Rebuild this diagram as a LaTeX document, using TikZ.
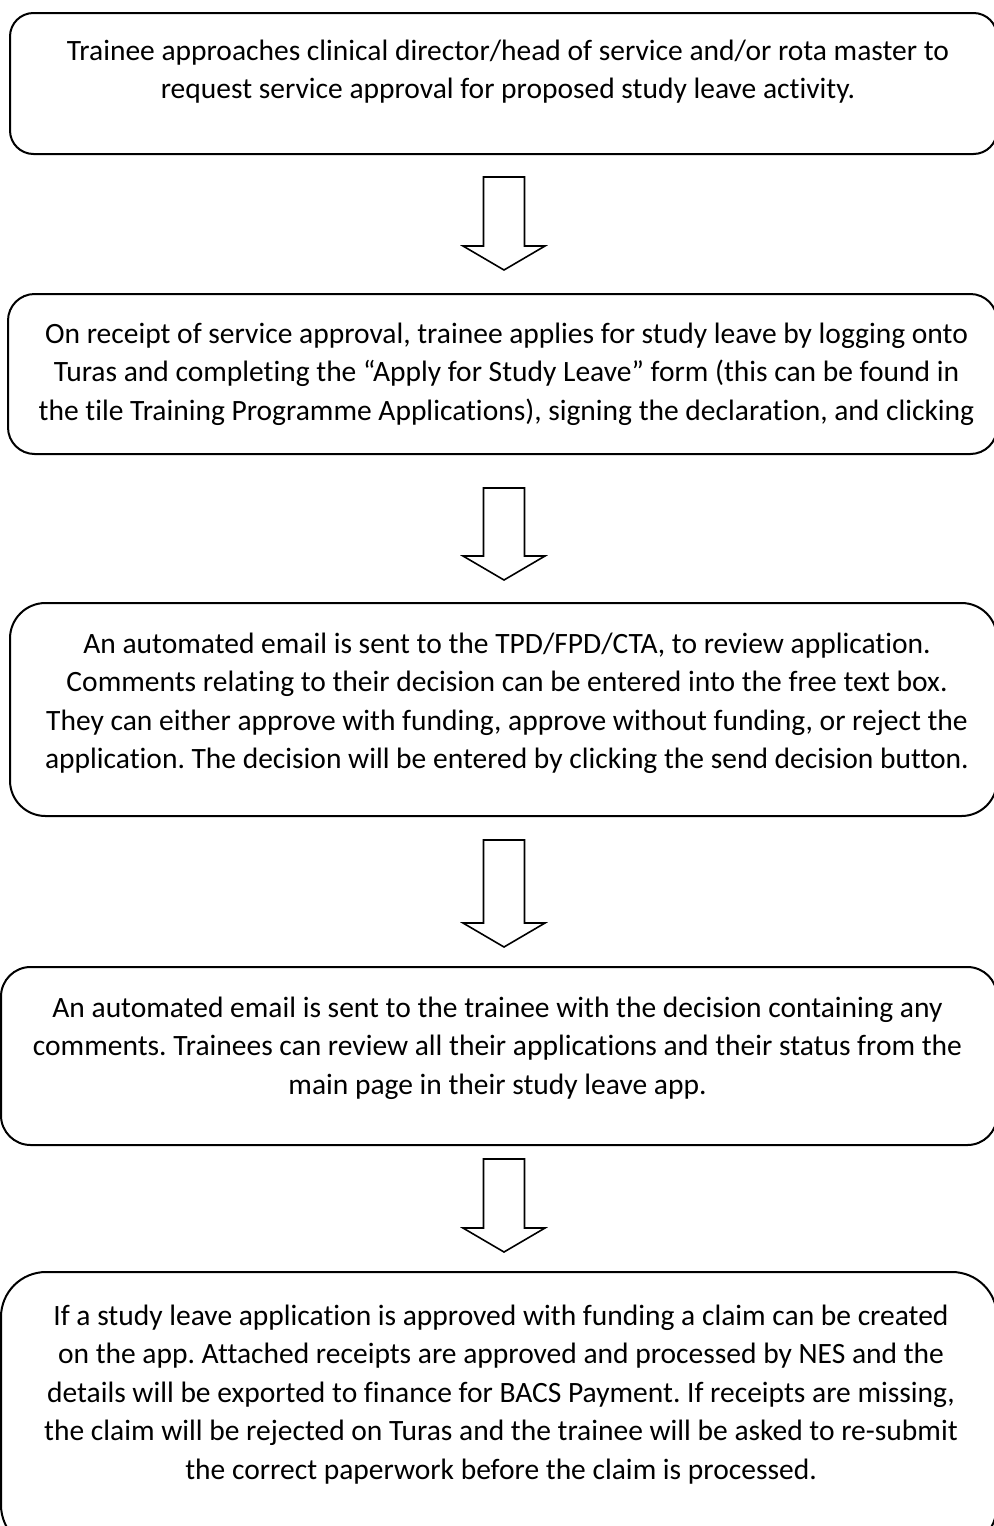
\documentclass[tikz,border=0pt]{standalone}
\usepackage{fontspec}
\setmainfont{Carlito}[Ligatures=NoCommon]
\usetikzlibrary{positioning,calc}
\tikzset{
  stepbox/.style={draw, line width=1pt, inner sep=0pt},
  steptext/.style={align=center, inner sep=0pt, font={\fontsize{14.75pt}{19.2pt}\selectfont}},
  blockarrow/.style={draw, line width=0.8pt, line join=miter}
}

\begin{document}
\frenchspacing
\begin{tikzpicture}[x=0.5pt,y=-0.5pt]
  \clip (0,0) rectangle (994,1526);
  %boxes
  \node[stepbox, minimum width=493.5pt, minimum height=70.5pt, rounded corners=11.75pt] (box1) at (503.5,83.5) {};
  \node[stepbox, minimum width=494.5pt, minimum height=80pt, rounded corners=13.3pt] (box2) at (502.5,374) {};
  \node[stepbox, minimum width=493.5pt, minimum height=106.5pt, rounded corners=17.75pt] (box3) at (503.5,709.5) {};
  \node[stepbox, minimum width=498pt, minimum height=89pt, rounded corners=14.8pt] (box4) at (499,1056) {};
  \node[stepbox, minimum width=498pt, minimum height=139pt, rounded corners=22.5pt] (box5) at (499,1411) {};
  %texts
  \node[steptext, below=13.75pt of box1.north, xshift=2.25pt] (txt1) {Trainee approaches clinical director/head of service and/or rota master to\\
    request service approval for proposed study leave activity.};
  \node[steptext, below=14.75pt of box2.north, xshift=2pt] (txt2) {On receipt of service approval, trainee applies for study leave by logging onto\\
    Turas and completing the “Apply for Study Leave” form (this can be found in\\
    the tile Training Programme Applications), signing the declaration, and clicking};
  \node[steptext, below=15.25pt of box3.north, xshift=1.75pt] (txt3) {An automated email is sent to the TPD/FPD/CTA, to review application.\\
    Comments relating to their decision can be entered into the free text box.\\
    They can either approve with funding, approve without funding, or reject the\\
    application. The decision will be entered by clicking the send decision button.};
  \node[steptext, below=15.25pt of box4.north, xshift=-0.75pt] (txt4) {An automated email is sent to the trainee with the decision containing any\\
    comments. Trainees can review all their applications and their status from the\\
    main page in their study leave app.};
  \node[steptext, below=16.75pt of box5.north, xshift=1pt] (txt5) {If a study leave application is approved with funding a claim can be created\\
    on the app. Attached receipts are approved and processed by NES and the\\
    details will be exported to finance for BACS Payment. If receipts are missing,\\
    the claim will be rejected on Turas and the trainee will be asked to re-submit\\
    the correct paperwork before the claim is processed.};
  %arrows
  \coordinate (axis) at (504,0);
  \foreach \a/\b/\gtop/\gbot [count=\i] in {box1/box2/11/11.5, box2/box3/16.5/11, box3/box4/11.5/9.5, box4/box5/6.5/9.5}
    \draw[blockarrow] let \p1=(\a.south), \p2=(\b.north), \p3=(axis) in
      ({\x3-10.25pt},{\y1-\gtop pt}) -- ({\x3+10.25pt},{\y1-\gtop pt})
      -- ({\x3+10.25pt},{\y2+\gbot pt+12pt}) -- ({\x3+20.5pt},{\y2+\gbot pt+12pt})
      -- ({\x3},{\y2+\gbot pt}) coordinate (tip\i)
      -- ({\x3-20.5pt},{\y2+\gbot pt+12pt}) -- ({\x3-10.25pt},{\y2+\gbot pt+12pt}) -- cycle;
\end{tikzpicture}
\end{document}
